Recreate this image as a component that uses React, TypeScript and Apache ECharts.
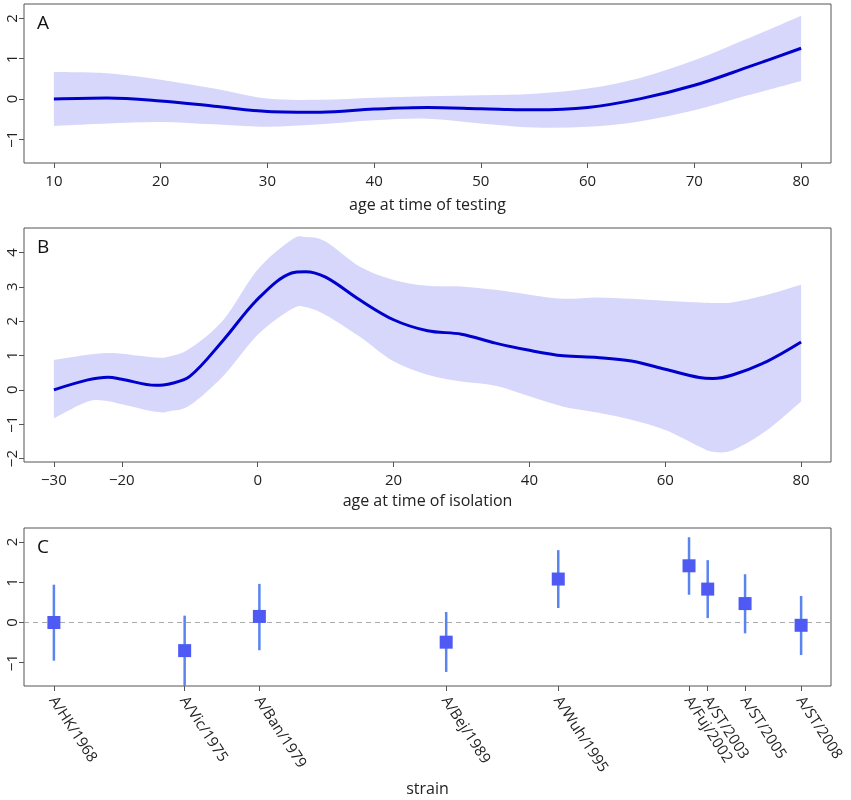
import React, { useEffect, useRef } from "react";
import * as echarts from "echarts";

// Panel A: age at time of testing
const ageTest = [10, 15, 20, 25, 30, 35, 40, 45, 50, 55, 60, 65, 70, 75, 80];
const fitTest = [0, 0.025, -0.05, -0.18, -0.31, -0.33, -0.25, -0.21, -0.24, -0.27, -0.21, 0.01, 0.34, 0.79, 1.26];
const upperTest = [0.67, 0.64, 0.48, 0.26, 0.01, -0.02, 0.03, 0.07, 0.09, 0.13, 0.26, 0.53, 0.96, 1.5, 2.07];
const lowerTest = [-0.67, -0.61, -0.57, -0.63, -0.69, -0.63, -0.53, -0.49, -0.61, -0.71, -0.69, -0.55, -0.28, 0.09, 0.45];
const ticksA_x = [10, 20, 30, 40, 50, 60, 70, 80];
const ticksA_y = [-1, 0, 1, 2];

// Panel B: age at time of isolation
const ageIso = [-30, -25, -22, -20, -15, -13, -10, -5, 0, 5, 7, 10, 15, 20, 25, 30, 35, 40, 45, 50, 55, 60, 65, 67, 70, 75, 80];
const fitIso = [0, 0.29, 0.37, 0.31, 0.13, 0.17, 0.39, 1.46, 2.64, 3.4, 3.44, 3.28, 2.62, 2.04, 1.72, 1.62, 1.36, 1.15, 0.99, 0.94, 0.84, 0.6, 0.36, 0.33, 0.44, 0.83, 1.39];
const upperIso = [0.87, 1.02, 1.07, 1.05, 0.94, 0.97, 1.2, 2.05, 3.5, 4.37, 4.45, 4.32, 3.59, 3.2, 3.03, 3.01, 2.91, 2.77, 2.65, 2.69, 2.65, 2.59, 2.54, 2.53, 2.55, 2.77, 3.06];
const lowerIso = [-0.83, -0.34, -0.33, -0.42, -0.64, -0.62, -0.45, 0.42, 1.6, 2.35, 2.41, 2.18, 1.55, 0.83, 0.44, 0.24, 0.12, -0.19, -0.49, -0.66, -0.87, -1.17, -1.65, -1.8, -1.75, -1.17, -0.34];
const ticksB_x = [-30, -20, 0, 20, 40, 60, 80];
const ticksB_y = [-2, -1, 0, 1, 2, 3, 4];

// Panel C: strain
const strains = ["A/HK/1968", "A/Vic/1975", "A/Ban/1979", "A/Bej/1989", "A/Wuh/1995", "A/Fuj/2002", "A/ST/2003", "A/ST/2005", "A/ST/2008"];
const strainYears = [1968, 1975, 1979, 1989, 1995, 2002, 2003, 2005, 2008];
const strainEffect = [0, -0.7, 0.15, -0.49, 1.08, 1.41, 0.83, 0.47, -0.07];
const strainLower = [-0.95, -1.7, -0.69, -1.23, 0.36, 0.69, 0.11, -0.27, -0.81];
const strainUpper = [0.94, 0.17, 0.96, 0.26, 1.8, 2.12, 1.55, 1.2, 0.66];
const ticksC_y = [-1, 0, 1, 2];

const FONT = "'Open Sans', 'Noto Sans', sans-serif";
const TXT = "#222";
const FRAME = "#555";
const minus = (v: number) => String(v).replace("-", "\u2212");

// Catmull-Rom spline through screen points, as cubic bezier commands (no leading M)
function splineSegs(p: number[][]): string {
  let d = "";
  const n = p.length;
  for (let i = 0; i < n - 1; i++) {
    const p0 = p[Math.max(0, i - 1)];
    const p1 = p[i];
    const p2 = p[i + 1];
    const p3 = p[Math.min(n - 1, i + 2)];
    const c1x = p1[0] + (p2[0] - p0[0]) / 6;
    const c1y = p1[1] + (p2[1] - p0[1]) / 6;
    const c2x = p2[0] - (p3[0] - p1[0]) / 6;
    const c2y = p2[1] - (p3[1] - p1[1]) / 6;
    d += ` C${c1x.toFixed(2)},${c1y.toFixed(2)} ${c2x.toFixed(2)},${c2y.toFixed(2)} ${p2[0].toFixed(2)},${p2[1].toFixed(2)}`;
  }
  return d;
}

function xAxisBase(gridIndex: number, min: number, max: number, ticks: number[], name: string, nameGap: number) {
  return {
    type: "value",
    gridIndex,
    min,
    max,
    name,
    nameLocation: "middle",
    nameGap,
    nameTextStyle: { fontSize: 16, color: TXT, fontFamily: FONT },
    axisLine: { show: false, onZero: false },
    splitLine: { show: false },
    axisTick: { show: true, length: 5, lineStyle: { color: FRAME }, customValues: ticks },
    axisLabel: { fontSize: 15, color: TXT, fontFamily: FONT, margin: 9, customValues: ticks, formatter: (v: number) => minus(v) },
  };
}

function yAxisBase(gridIndex: number, min: number, max: number, ticks: number[]) {
  return {
    type: "value",
    gridIndex,
    min,
    max,
    axisLine: { show: false, onZero: false },
    splitLine: { show: false },
    axisTick: { show: true, length: 5, lineStyle: { color: FRAME }, customValues: ticks },
    axisLabel: { fontSize: 15, color: TXT, fontFamily: FONT, margin: 6, rotate: 90, customValues: ticks, formatter: (v: number) => minus(v) },
  };
}

function bandSeries(idx: number, xs: number[], lo: number[], hi: number[], fit: number[]) {
  return [
    {
      type: "custom",
      xAxisIndex: idx,
      yAxisIndex: idx,
      data: xs.map((x, i) => [x, lo[i], hi[i]]),
      encode: { x: 0, y: [1, 2] },
      renderItem: (params: any, api: any) => {
        if (params.dataIndex !== 0) return { type: "group", children: [] };
        const up = xs.map((x, i) => api.coord([x, hi[i]]));
        const dn = xs.map((x, i) => api.coord([x, lo[i]])).reverse();
        const d =
          `M${up[0][0].toFixed(2)},${up[0][1].toFixed(2)}` +
          splineSegs(up) +
          ` L${dn[0][0].toFixed(2)},${dn[0][1].toFixed(2)}` +
          splineSegs(dn) +
          " Z";
        return {
          type: "path",
          shape: { pathData: d },
          style: { fill: "#d7d7fc", stroke: "none" },
        };
      },
      z: 2,
      silent: true,
    },
    {
      type: "line",
      xAxisIndex: idx,
      yAxisIndex: idx,
      data: xs.map((x, i) => [x, fit[i]]),
      smooth: 0.35,
      symbol: "none",
      lineStyle: { color: "#0000cc", width: 3 },
      z: 5,
      silent: true,
    },
  ];
}

export default function App() {
  const ref = useRef<HTMLDivElement>(null);
  useEffect(() => {
    if (!ref.current) return;
    const chart = echarts.init(ref.current, null, { renderer: "svg" });
    const gridCommon = { show: true, borderColor: FRAME, borderWidth: 1, backgroundColor: "transparent", containLabel: false };
    chart.setOption({
      animation: false,
      textStyle: { fontFamily: FONT },
      grid: [
        { ...gridCommon, left: 24, top: 4, width: 807, height: 159 },
        { ...gridCommon, left: 24, top: 228, width: 807, height: 234 },
        { ...gridCommon, left: 24, top: 528, width: 807, height: 158 },
      ],
      xAxis: [
        xAxisBase(0, 7.2, 82.8, ticksA_x, "age at time of testing", 33),
        xAxisBase(1, -34.4, 84.4, ticksB_x, "age at time of isolation", 30),
        {
          ...xAxisBase(2, 1966.4, 2009.6, strainYears, "strain", 94),
          axisLabel: {
            fontSize: 15,
            color: TXT,
            fontFamily: FONT,
            margin: 11,
            rotate: -57,
            customValues: strainYears,
            formatter: (v: number) => {
              const i = strainYears.indexOf(Math.round(v));
              return i >= 0 ? strains[i] : "";
            },
          },
        },
      ],
      yAxis: [
        yAxisBase(0, -1.59, 2.36, ticksA_y),
        yAxisBase(1, -2.1, 4.71, ticksB_y),
        yAxisBase(2, -1.58, 2.35, ticksC_y),
      ],
      graphic: [
        { type: "text", left: 37, top: 12, style: { text: "A", fontSize: 19, fill: "#111", fontFamily: FONT } },
        { type: "text", left: 37, top: 236, style: { text: "B", fontSize: 19, fill: "#111", fontFamily: FONT } },
        { type: "text", left: 37, top: 536, style: { text: "C", fontSize: 19, fill: "#111", fontFamily: FONT } },
      ],
      series: [
        ...bandSeries(0, ageTest, lowerTest, upperTest, fitTest),
        ...bandSeries(1, ageIso, lowerIso, upperIso, fitIso),
        {
          type: "custom",
          xAxisIndex: 2,
          yAxisIndex: 2,
          data: strainYears.map((y, i) => [y, strainLower[i], strainUpper[i]]),
          encode: { x: 0, y: [1, 2] },
          renderItem: (params: any, api: any) => {
            const x = api.value(0);
            const p1 = api.coord([x, api.value(2)]);
            const p2 = api.coord([x, api.value(1)]);
            const cs = params.coordSys;
            const yb = Math.min(p2[1], cs.y + cs.height);
            const yt = Math.max(p1[1], cs.y);
            return {
              type: "line",
              shape: { x1: p1[0], y1: yt, x2: p2[0], y2: yb },
              style: { stroke: "#5a84f0", lineWidth: 2.5 },
            };
          },
          z: 3,
          silent: true,
        },
        {
          type: "scatter",
          xAxisIndex: 2,
          yAxisIndex: 2,
          data: strainYears.map((y, i) => [y, strainEffect[i]]),
          symbol: "rect",
          symbolSize: 13,
          itemStyle: { color: "#4f5af5", opacity: 1 },
          z: 4,
          silent: true,
          markLine: {
            silent: true,
            symbol: ["none", "none"],
            label: { show: false },
            lineStyle: { type: [5, 4], color: "#aaaaaa", width: 1 },
            data: [{ yAxis: 0 }],
            z: 1,
          },
        },
      ],
    });
    return () => chart.dispose();
  }, []);
  return <div ref={ref} style={{ position: "fixed", left: 0, top: 0, width: 851, height: 800 }} />;
}
